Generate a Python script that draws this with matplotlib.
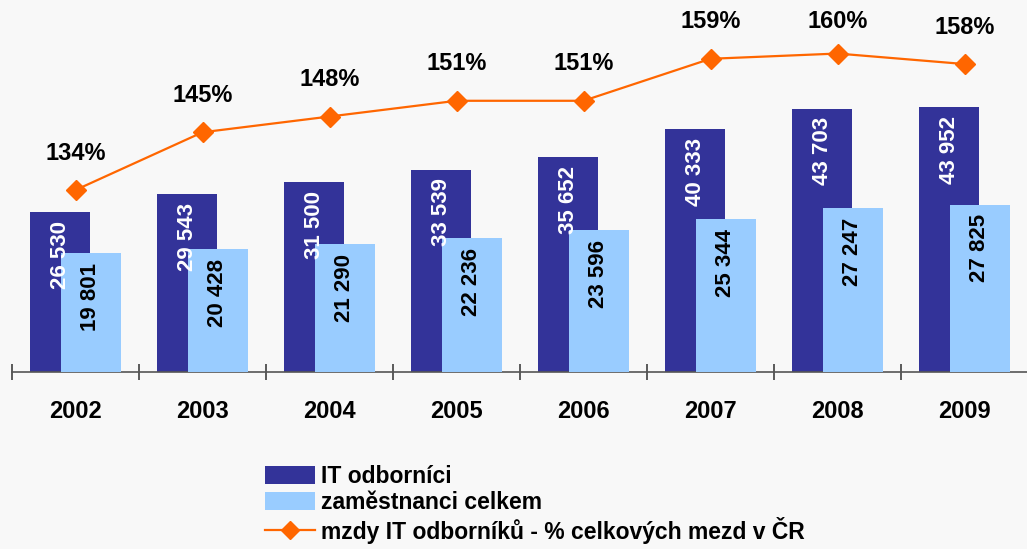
import matplotlib
matplotlib.use("Agg")
import matplotlib.pyplot as plt
import numpy as np
from matplotlib.patches import Patch
from matplotlib.lines import Line2D

years = ["2002", "2003", "2004", "2005", "2006", "2007", "2008", "2009"]
it_specialists = [26530, 29543, 31500, 33539, 35652, 40333, 43703, 43952]
all_employees = [19801, 20428, 21290, 22236, 23596, 25344, 27247, 27825]
wage_ratio = [134, 145, 148, 151, 151, 159, 160, 158]

DARK = "#333399"
LIGHT = "#99ccff"
ORANGE = "#ff6600"
BG = "#f8f8f8"

plt.rcParams['font.family'] = ['Liberation Sans', 'DejaVu Sans']

W, H = 1027, 549
fig = plt.figure(figsize=(W / 100, H / 100), dpi=100, facecolor=BG)

ax_left, ax_right = 12, 1028
ax_bottom_px, ax_top_px = 372, 0
ax = fig.add_axes([ax_left / W, (H - ax_bottom_px) / H,
                   (ax_right - ax_left) / W, (ax_bottom_px - ax_top_px) / H])
ax.set_facecolor("none")

x = np.arange(len(years))
bw = 0.475
off = 0.12
b1 = ax.bar(x - off, it_specialists, bw, color=DARK, zorder=2)
b2 = ax.bar(x + off, all_employees, bw, color=LIGHT, zorder=3)

ax.set_xlim(-0.5, len(years) - 0.5)
ax.set_ylim(0, 61800)

def fmt(v):
    return f"{v:,}".replace(",", " ")

for xi, v in zip(x - off, it_specialists):
    ax.annotate(fmt(v), (xi, v), xytext=(0, -6), textcoords="offset points",
                rotation=90, ha="center", va="top", color="white",
                fontsize=16, fontweight="bold", zorder=4)
for xi, v in zip(x + off, all_employees):
    ax.annotate(fmt(v), (xi, v), xytext=(0, -7), textcoords="offset points",
                rotation=90, ha="center", va="top", color="black",
                fontsize=16, fontweight="bold", zorder=4)

# axes styling
for s in ["top", "right", "left"]:
    ax.spines[s].set_visible(False)
ax.spines["bottom"].set_color("#555555")
ax.spines["bottom"].set_linewidth(1.2)
ax.set_yticks([])
ax.set_xticks(np.arange(-0.5, len(years) - 0.4, 1.0))
ax.set_xticklabels([])
ax.tick_params(axis="x", which="major", direction="inout", length=12,
               width=1.2, color="#404040")
ax.set_xticks(x, minor=True)
ax.set_xticklabels(years, minor=True, fontsize=17, fontweight="bold")
ax.tick_params(axis="x", which="minor", length=0, pad=20)

ax2 = ax.twinx()
ax2.set_ylim(99.33, 170.2)
ax2.set_yticks([])
for s in ax2.spines.values():
    s.set_visible(False)
ax2.plot(x, wage_ratio, color=ORANGE, lw=1.6, marker="D", markersize=10,
         zorder=5)

fig.canvas.draw()
for xi, v in zip(x, wage_ratio):
    ydisp = ax2.transData.transform((xi, v))[1]
    y_from_top = H - ydisp
    dy = min(37, y_from_top - 22)
    ax2.annotate(f"{v}%", (xi, v), xytext=(0, dy * 0.72), textcoords="offset points",
                 ha="center", va="center", fontsize=17, fontweight="bold",
                 color="black")

handles = [Patch(facecolor=DARK, edgecolor="none"),
           Patch(facecolor=LIGHT, edgecolor="none"),
           Line2D([0], [0], color=ORANGE, lw=1.6, marker="D", markersize=9)]
labels = ["IT odborníci", "zaměstnanci celkem",
          "mzdy IT odborníků - % celkových mezd v ČR"]
leg = fig.legend(handles, labels, loc="upper left",
                 bbox_to_anchor=(265 / W, 1 - 465 / H),
                 frameon=False, prop={"size": 16.5, "weight": "bold"},
                 handlelength=2.2, handleheight=0.8, handletextpad=0.25,
                 labelspacing=0.12, borderaxespad=0, borderpad=0)

fig.savefig("out.png", dpi=100, facecolor=BG)
